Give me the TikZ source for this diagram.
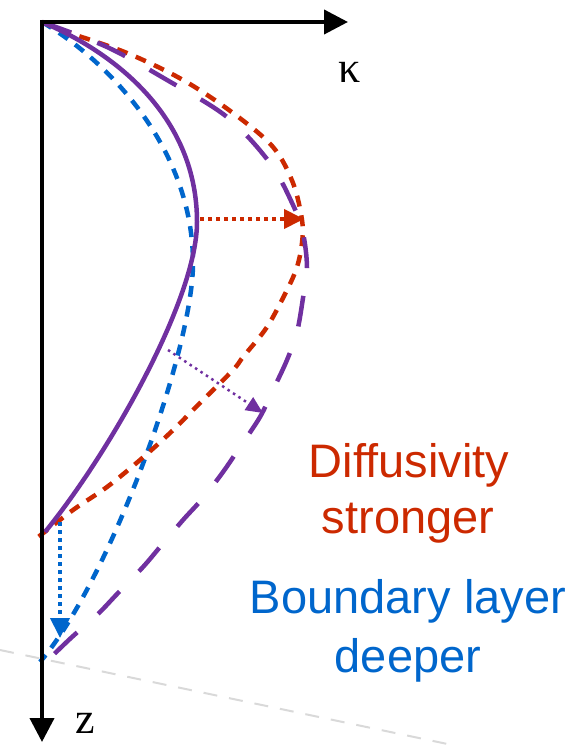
\documentclass[tikz,border=0pt]{standalone}
\usepackage{fontspec}
\setmainfont{Liberation Sans}
\newfontfamily\axisfont{Liberation Serif}
\usetikzlibrary{arrows.meta}
\definecolor{diffred}{RGB}{204,41,0}
\definecolor{layerblue}{RGB}{0,102,204}
\definecolor{profpurple}{RGB}{112,48,160}
\tikzset{axisline/.style={line width=4pt,line join=miter,{Triangle[length=24pt,width=24pt]}-{Triangle[length=24pt,width=24pt]}},
  profile/.style={line width=4.5pt,smooth,tension=0.55},
  shortdash/.style={dash pattern=on 11pt off 9pt},
  longdash/.style={dash pattern=on 31pt off 28pt},
  shiftarrow/.style={line width=4pt,dash pattern=on 4pt off 4pt,-{Triangle[length=20pt,width=19pt]}},
  notetext/.style={font=\fontsize{47}{54}\selectfont,anchor=base,inner sep=0pt},
  axlabel/.style={font=\axisfont\fontsize{44}{50}\selectfont,inner sep=0pt}}

\begin{document}
\begin{tikzpicture}[x=1pt,y=-1pt]
\useasboundingbox (0,0) rectangle (583,746);
\draw[gray!30,line width=2pt,dash pattern=on 14pt off 12pt] (0,650) -- (457,746);
\coordinate (origin) at (42,22);
\draw[profile,layerblue,shortdash] (origin) .. controls (110,62) and (193,150) .. (193,263)
  .. controls (193,350) and (110,580) .. (40,662);
\draw[profile,diffred,shortdash] plot coordinates {(42,22) (67,32) (127,53) (183,80) (233,113) (273,147) (293,183) (302,220) (302,243) (297,267) (287,290) (267,327) (243,357) (233,370) (200,403) (170,433) (140,460) (107,487) (73,510) (37,538)};
\draw[profile,profpurple,longdash] plot coordinates {(42,22) (107,47) (167,80) (227,117) (270,163) (293,205) (303,233) (307,268) (303,298) (297,332) (287,360) (273,390) (260,417) (240,447) (223,472) (203,498) (183,520) (160,547) (143,567) (118,593) (97,615) (72,637) (48,660)};
\draw[profile,profpurple] (origin) .. controls (120,55) and (197,120) .. (197,222)
  .. controls (197,300) and (108,455) .. (45,532);
\coordinate (kend) at (348,22);
\coordinate (zend) at (42,742);
\draw[axisline] (kend) -- (origin) -- (zend);
\coordinate (peak) at (200,219);
\coordinate (peaknew) at (304,219);
\coordinate (slope) at (168,350);
\coordinate (slopenew) at (263,413);
\coordinate (base) at (60,522);
\coordinate (basenew) at (60,638);
\draw[shiftarrow,diffred] (peak) -- (peaknew);
\draw[shiftarrow,profpurple,line width=2.5pt,dash pattern=on 2.5pt off 4pt,-{Triangle[length=17pt,width=15pt]}] (slope) -- (slopenew);
\draw[shiftarrow,layerblue] (base) -- (basenew);
\node[axlabel] (kappa) at (350,72) {κ};
\node[axlabel] (zed) at (85,723) {z};
\node[notetext,diffred] (diff1) at (409,477) {Diffusivity};
\node[notetext,diffred] (diff2) at (408,533) {stronger};
\node[notetext,layerblue] (layer1) at (408,613) {Boundary layer};
\node[notetext,layerblue] (layer2) at (408,672) {deeper};
\end{tikzpicture}
\end{document}
